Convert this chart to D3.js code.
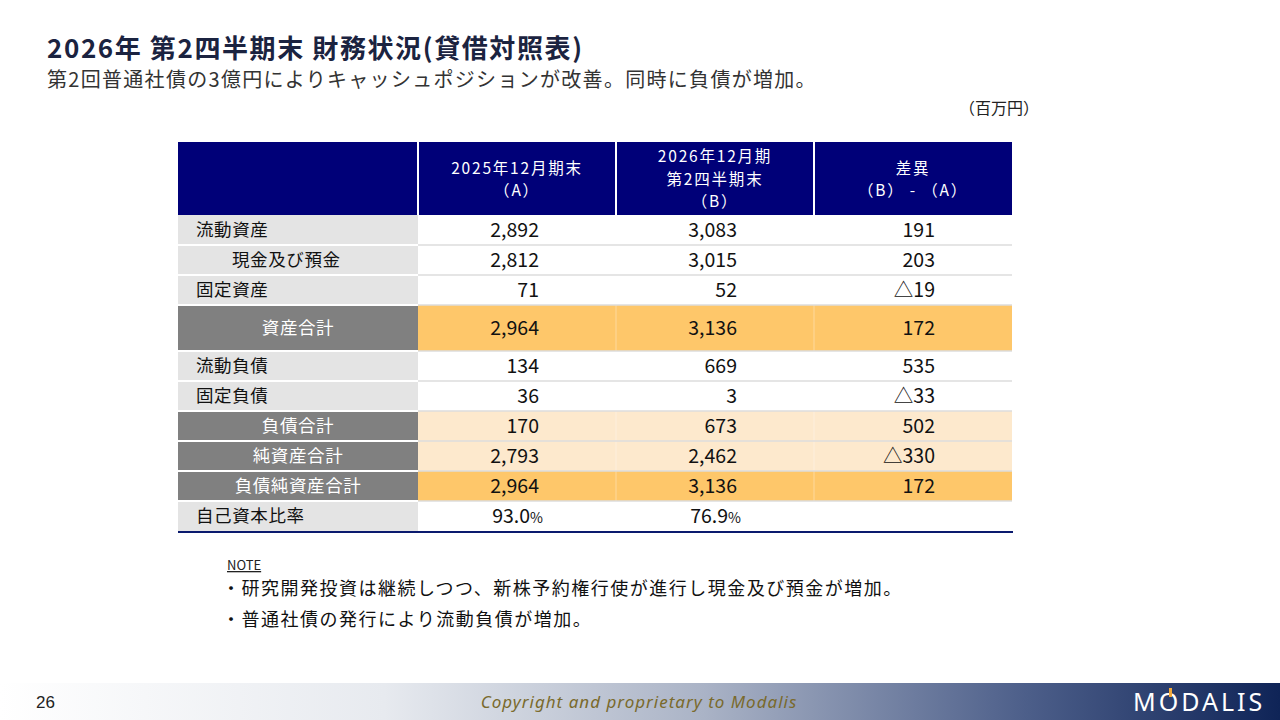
<!DOCTYPE html>
<html>
<head>
<meta charset="utf-8">
<script src="https://cdn.jsdelivr.net/npm/d3@7"></script>
<style>
  html, body { margin: 0; padding: 0; background: #fff; }
  svg { display: block; }
</style>
</head>
<body>
<svg id="slide" width="1280" height="720"></svg>
<script>
// table data
const rowLabels = ["流動資産", "現金及び預金", "固定資産", "資産合計", "流動負債", "固定負債", "負債合計", "純資産合計", "負債純資産合計", "自己資本比率"];
const rowKinds = ["item", "sub", "item", "total", "item", "item", "subtotal", "subtotal", "total", "ratio"];
const valuesA = [2892, 2812, 71, 2964, 134, 36, 170, 2793, 2964, 93.0];
const valuesB = [3083, 3015, 52, 3136, 669, 3, 673, 2462, 3136, 76.9];
const diffs = [191, 203, -19, 172, 535, -33, 502, -330, 172, null];
const columnKeys = ["A", "B", "diff"];
const columnHeaders = [
  ["2025年12月期末", "（A）"],
  ["2026年12月期", "第2四半期末", "（B）"],
  ["差異", "（B） - （A）"]
];
const notes = [
  "・研究開発投資は継続しつつ、新株予約権行使が進行し現金及び預金が増加。",
  "・普通社債の発行により流動負債が増加。"
];

const svg = d3.select("#slide");
const jp = "'Noto Sans CJK JP', 'Noto Sans', sans-serif";

// layout
const tableLeft = 178, labelRight = 418, tableRight = 1012;
const headTop = 142, headBottom = 215;
const rowH = 30, tallH = 46;
const tallRows = new Set(["資産合計"]);

const x = d3.scaleBand().domain(columnKeys).range([labelRight, tableRight]);

// row tops from cumulative heights
const heights = rowLabels.map(l => tallRows.has(l) ? tallH : rowH);
const tops = [headBottom].concat(Array.from(d3.cumsum(heights)).map(v => headBottom + v));

const fmt = d3.format(",");
function fmtDiff(v) {
  if (v === null) return "";
  return v < 0 ? "△" + fmt(-v) : fmt(v);
}

// ---- title block ----
svg.append("text")
  .attr("x", 47).attr("y", 58)
  .attr("font-family", jp).attr("font-weight", 700).attr("font-size", 26)
  .attr("letter-spacing", 1.6)
  .attr("fill", "#1b2340")
  .text("2026年 第2四半期末 財務状況(貸借対照表)");

svg.append("text")
  .attr("x", 47).attr("y", 87)
  .attr("font-family", jp).attr("font-size", 20)
  .attr("letter-spacing", 1.3)
  .attr("fill", "#333")
  .text("第2回普通社債の3億円によりキャッシュポジションが改善。同時に負債が増加。");

svg.append("text")
  .attr("x", 1039).attr("y", 114)
  .attr("text-anchor", "end")
  .attr("font-family", jp).attr("font-size", 16)
  .attr("fill", "#222")
  .text("（百万円）");

// ---- header ----
const table = svg.append("g");
table.append("rect")
  .attr("x", tableLeft).attr("y", headTop)
  .attr("width", tableRight - tableLeft).attr("height", headBottom - headTop)
  .attr("fill", "#000078");

columnKeys.forEach((k, i) => {
  table.append("line")
    .attr("x1", x(k)).attr("x2", x(k))
    .attr("y1", headTop).attr("y2", headBottom)
    .attr("stroke", "#fff").attr("stroke-width", 2);
  const lines = columnHeaders[i];
  const cy = (headTop + headBottom) / 2 + 1;
  const lh = 22.5;
  lines.forEach((t, j) => {
    table.append("text")
      .attr("x", x(k) + x.bandwidth() / 2)
      .attr("y", cy + (j - (lines.length - 1) / 2) * lh)
      .attr("dy", "0.35em")
      .attr("text-anchor", "middle")
      .attr("font-family", jp).attr("font-size", 15.5)
      .attr("letter-spacing", 1.8)
      .attr("fill", "#fff")
      .text(t);
  });
});

// ---- body rows ----
const labelFill = { item: "#e4e4e4", sub: "#e4e4e4", ratio: "#e4e4e4", total: "#808080", subtotal: "#808080" };
const valueFill = { item: "#ffffff", sub: "#ffffff", ratio: "#ffffff", total: "#fec76a", subtotal: "#fde9cd" };

rowLabels.forEach((label, i) => {
  const kind = rowKinds[i];
  const y0 = tops[i], h = heights[i];
  const cy = y0 + h / 2;
  const g = table.append("g");

  g.append("rect")
    .attr("x", tableLeft).attr("y", y0)
    .attr("width", labelRight - tableLeft).attr("height", h)
    .attr("fill", labelFill[kind]);
  g.append("rect")
    .attr("x", labelRight).attr("y", y0)
    .attr("width", tableRight - labelRight).attr("height", h)
    .attr("fill", valueFill[kind]);

  // faint column dividers in tinted rows
  if (kind === "total" || kind === "subtotal") {
    ["B", "diff"].forEach(k => {
      g.append("line")
        .attr("x1", x(k)).attr("x2", x(k))
        .attr("y1", y0).attr("y2", y0 + h)
        .attr("stroke", "#fff").attr("stroke-opacity", 0.35).attr("stroke-width", 1);
    });
  }

  // label
  const centered = kind === "total" || kind === "subtotal";
  g.append("text")
    .attr("x", centered ? (tableLeft + labelRight) / 2 : (kind === "sub" ? 232 : 196))
    .attr("y", cy).attr("dy", "0.35em")
    .attr("text-anchor", centered ? "middle" : "start")
    .attr("font-family", jp).attr("font-size", 17.5)
    .attr("letter-spacing", 0.6)
    .attr("fill", centered ? "#fff" : "#111")
    .text(label);

  // values
  const cells = [valuesA[i], valuesB[i], diffs[i]];
  cells.forEach((v, j) => {
    const t = g.append("text")
      .attr("x", x(columnKeys[j]) + 121)
      .attr("y", cy).attr("dy", "0.35em")
      .attr("text-anchor", "end")
      .attr("font-family", jp).attr("font-size", 19.5)
      .attr("fill", "#111");
    if (kind === "ratio") {
      if (v === null) return;
      t.attr("x", x(columnKeys[j]) + 125);
      t.append("tspan").text(d3.format(".1f")(v));
      t.append("tspan").attr("font-size", 14).text("%");
    } else {
      t.text(j === 2 ? fmtDiff(v) : fmt(v));
    }
  });
});

// row separators
tops.slice(1, -1).forEach(y => {
  table.append("line")
    .attr("x1", tableLeft).attr("x2", labelRight)
    .attr("y1", y).attr("y2", y)
    .attr("stroke", "#fff").attr("stroke-width", 2);
  table.append("line")
    .attr("x1", labelRight).attr("x2", tableRight)
    .attr("y1", y).attr("y2", y)
    .attr("stroke", "#dcdcdc").attr("stroke-width", 1.5);
});

// bottom rule
table.append("line")
  .attr("x1", tableLeft).attr("x2", tableRight + 1)
  .attr("y1", tops[tops.length - 1] + 1).attr("y2", tops[tops.length - 1] + 1)
  .attr("stroke", "#0a1a6e").attr("stroke-width", 2);

// ---- notes ----
svg.append("text")
  .attr("x", 227).attr("y", 570)
  .attr("font-family", jp).attr("font-size", 13)
  .attr("fill", "#222")
  .attr("text-decoration", "underline")
  .text("NOTE");

svg.selectAll(".note")
  .data(notes)
  .join("text")
  .attr("class", "note")
  .attr("x", 222)
  .attr("y", (d, i) => 595 + i * 31)
  .attr("font-family", jp).attr("font-size", 18)
  .attr("letter-spacing", 1.5)
  .attr("fill", "#111")
  .text(d => d);

// ---- footer band ----
const defs = svg.append("defs");
const grad = defs.append("linearGradient").attr("id", "footGrad")
  .attr("x1", "0%").attr("x2", "100%").attr("y1", "0%").attr("y2", "0%");
grad.append("stop").attr("offset", "0%").attr("stop-color", "#ffffff");
grad.append("stop").attr("offset", "30%").attr("stop-color", "#e7eaef");
grad.append("stop").attr("offset", "55%").attr("stop-color", "#aab3c6");
grad.append("stop").attr("offset", "80%").attr("stop-color", "#4d5f8a");
grad.append("stop").attr("offset", "100%").attr("stop-color", "#0f2457");

svg.append("rect")
  .attr("x", 0).attr("y", 683).attr("width", 1280).attr("height", 37)
  .attr("fill", "url(#footGrad)");

svg.append("text")
  .attr("x", 36).attr("y", 708)
  .attr("font-family", "'Liberation Sans Narrow', 'Liberation Sans', sans-serif")
  .attr("font-size", 17).attr("fill", "#222")
  .text("26");

svg.append("text")
  .attr("x", 639).attr("y", 708)
  .attr("text-anchor", "middle")
  .attr("font-family", "'Noto Sans', sans-serif").attr("font-style", "italic")
  .attr("font-size", 17).attr("letter-spacing", 1)
  .attr("fill", "#7a6a2c")
  .text("Copyright and proprietary to Modalis");

svg.append("text")
  .attr("x", 1133).attr("y", 711)
  .attr("font-family", "'Noto Sans', sans-serif").attr("font-size", 25)
  .attr("letter-spacing", 3)
  .attr("fill", "#fff")
  .text("MODALIS");
// little orange tick on the O
svg.append("rect")
  .attr("x", 1169).attr("y", 688).attr("width", 3).attr("height", 9)
  .attr("fill", "#f2a93b");
</script>
</body>
</html>
